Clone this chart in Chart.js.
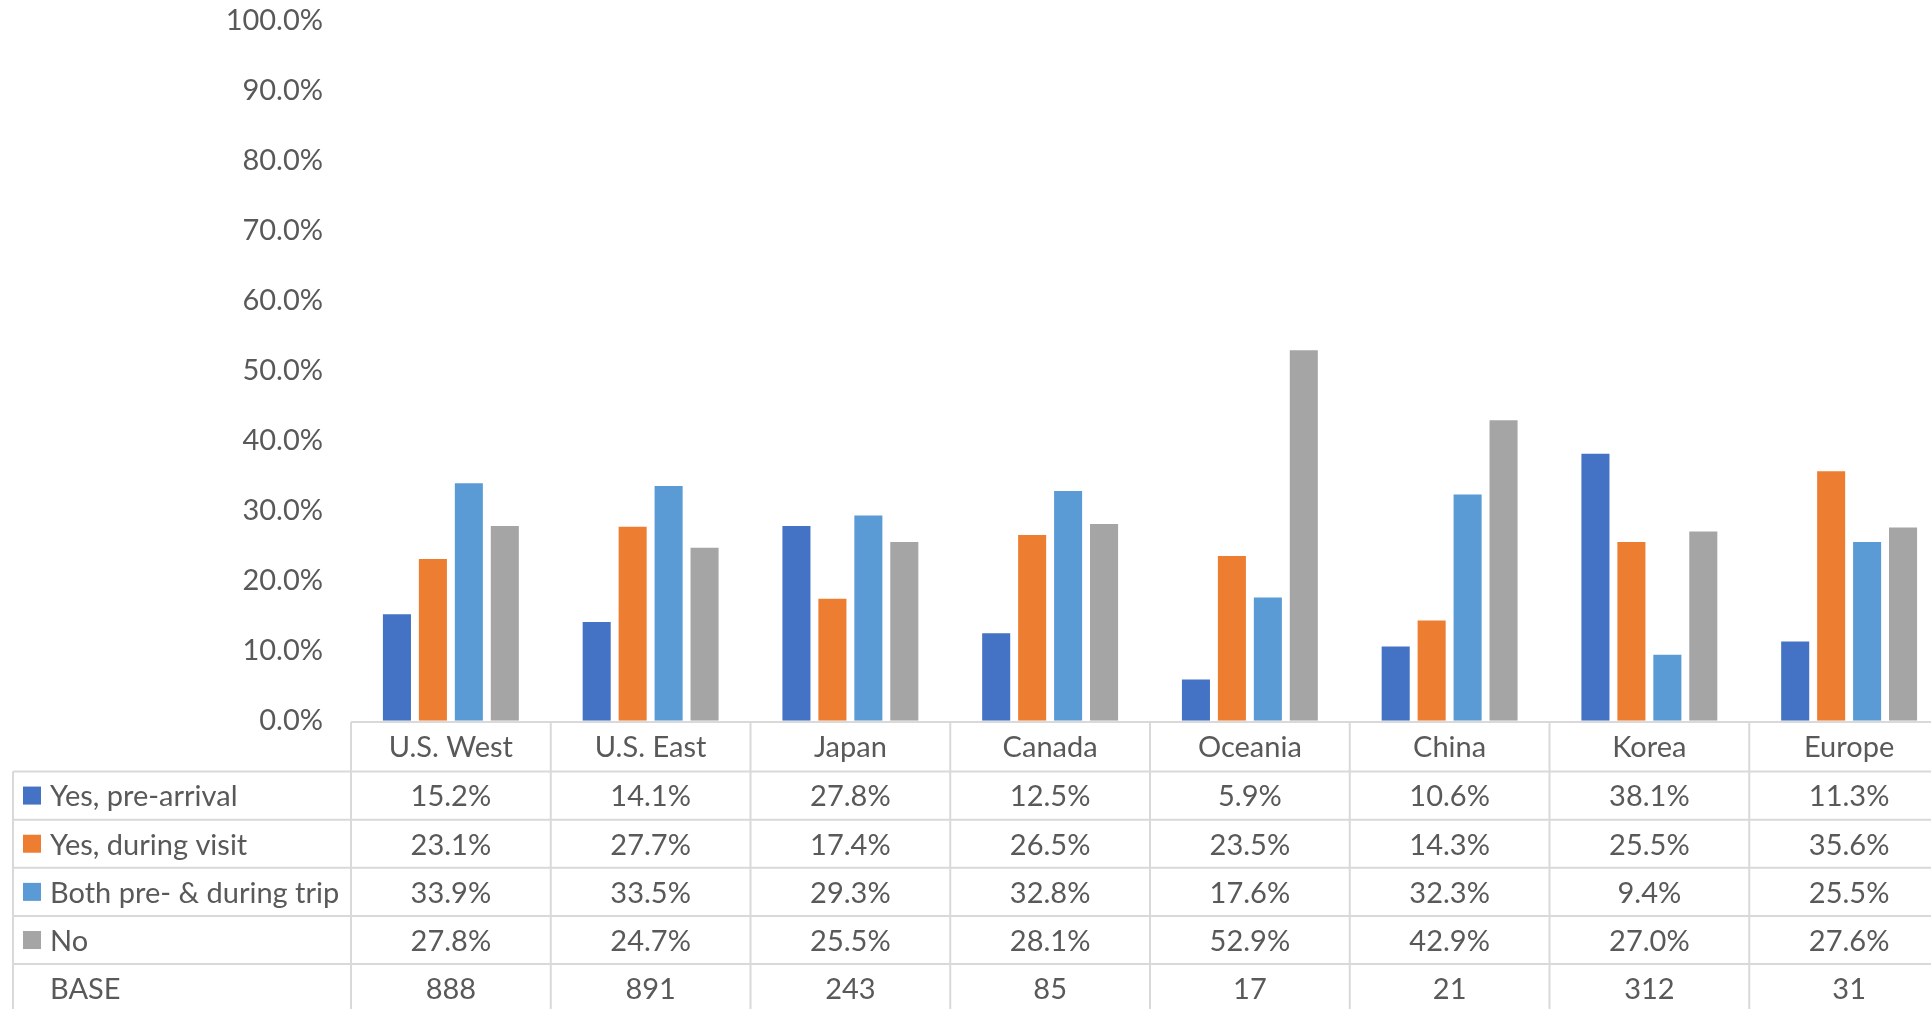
<!DOCTYPE html>
<html>
<head>
<meta charset="utf-8">
<script src="https://cdn.jsdelivr.net/npm/chart.js@4"></script>
<style>
html, body { margin: 0; padding: 0; overflow: hidden; background: #ffffff; }
#wrap { width: 1949px; height: 1012px; }
</style>
</head>
<body>
<div id="wrap"><canvas id="c" width="1949" height="1012"></canvas></div>
<script>
const categories = ['U.S. West', 'U.S. East', 'Japan', 'Canada', 'Oceania', 'China', 'Korea', 'Europe'];
const seriesNames = ['Yes, pre-arrival', 'Yes, during visit', 'Both pre- & during trip', 'No'];
const preArrival = [15.2, 14.1, 27.8, 12.5, 5.9, 10.6, 38.1, 11.3];
const duringVisit = [23.1, 27.7, 17.4, 26.5, 23.5, 14.3, 25.5, 35.6];
const bothPreDuring = [33.9, 33.5, 29.3, 32.8, 17.6, 32.3, 9.4, 25.5];
const noUse = [27.8, 24.7, 25.5, 28.1, 52.9, 42.9, 27.0, 27.6];
const baseCounts = [888, 891, 243, 85, 17, 21, 312, 31];
const baseLabel = 'BASE';
const yTicks = [0, 10, 20, 30, 40, 50, 60, 70, 80, 90, 100];

const colors = ['#4472C4', '#ED7D31', '#5B9BD5', '#A5A5A5'];
const seriesValues = [preArrival, duringVisit, bothPreDuring, noUse];
const FONT = 'Lato';
const FSIZE = 29;
const TEXT = '#595959';
const LINE = '#D9D9D9';

const tablePlugin = {
  id: 'dataTable',
  afterDraw(chart) {
    const ctx = chart.ctx;
    const xs = chart.scales.x;
    const area = chart.chartArea;
    const n = categories.length;
    const centers = categories.map((_, i) => xs.getPixelForValue(i));
    const colW = n > 1 ? centers[1] - centers[0] : xs.width;
    const bounds = [];
    for (let i = 0; i <= n; i++) bounds.push(centers[0] - colW / 2 + i * colW);
    const tableTop = area.bottom + 1.3;
    const headerBottom = tableTop + 49.5;
    const rowH = 48.15;
    const nRows = seriesNames.length + 1;
    const tableBottom = headerBottom + nRows * rowH;
    const leftX = 13;

    ctx.save();
    ctx.strokeStyle = LINE;
    ctx.lineWidth = 2;
    ctx.beginPath();
    ctx.moveTo(bounds[0], tableTop); ctx.lineTo(bounds[n] + 2, tableTop);
    for (let r = 0; r <= nRows; r++) {
      const y = headerBottom + r * rowH;
      ctx.moveTo(leftX, y); ctx.lineTo(bounds[n] + 2, y);
    }
    ctx.moveTo(leftX, headerBottom); ctx.lineTo(leftX, tableBottom);
    for (let i = 0; i <= n; i++) {
      ctx.moveTo(bounds[i], tableTop); ctx.lineTo(bounds[i], tableBottom);
    }
    ctx.stroke();

    ctx.font = FSIZE + 'px ' + FONT;
    ctx.fillStyle = TEXT;
    ctx.textBaseline = 'middle';
    for (let r = 0; r < nRows; r++) {
      const yc = headerBottom + r * rowH + rowH / 2 + 1.5;
      if (r < seriesNames.length) {
        ctx.fillStyle = colors[r];
        ctx.fillRect(23, yc - 1.5 - 9, 18, 18);
      }
      ctx.fillStyle = TEXT;
      ctx.textAlign = 'left';
      ctx.fillText(r < seriesNames.length ? seriesNames[r] : baseLabel, 50, yc);
      ctx.textAlign = 'center';
      for (let i = 0; i < n; i++) {
        const txt = r < seriesNames.length ? seriesValues[r][i].toFixed(1) + '%' : String(baseCounts[i]);
        ctx.fillText(txt, centers[i], yc);
      }
    }
    ctx.restore();
  }
};

new Chart(document.getElementById('c'), {
  type: 'bar',
  data: {
    labels: categories,
    datasets: seriesNames.map((name, k) => ({
      label: name,
      data: seriesValues[k],
      backgroundColor: colors[k],
      borderWidth: 0,
      categoryPercentage: 0.72,
      barPercentage: 0.78
    }))
  },
  options: {
    responsive: false,
    animation: false,
    layout: { padding: { top: 20.3, right: 0, bottom: 0, left: 0 } },
    plugins: {
      legend: { display: false },
      tooltip: { enabled: false }
    },
    scales: {
      x: {
        grid: { display: false, drawTicks: false },
        border: { display: false },
        ticks: {
          color: TEXT,
          font: { family: FONT, size: FSIZE },
          padding: 10,
          maxRotation: 0,
          autoSkip: false
        },
        afterFit(scale) { scale.height = 291.3; }
      },
      y: {
        min: 0,
        max: 100,
        grid: { display: false, drawTicks: false },
        border: { display: false },
        afterBuildTicks(scale) { scale.ticks = yTicks.map(v => ({ value: v })); },
        ticks: {
          color: TEXT,
          font: { family: FONT, size: FSIZE },
          padding: 28,
          callback: v => Number(v).toFixed(1) + '%'
        },
        afterFit(scale) {
          scale.width = 351;
          scale.paddingTop = 0;
          scale.paddingBottom = 0;
        }
      }
    }
  },
  plugins: [tablePlugin]
});
</script>
</body>
</html>
